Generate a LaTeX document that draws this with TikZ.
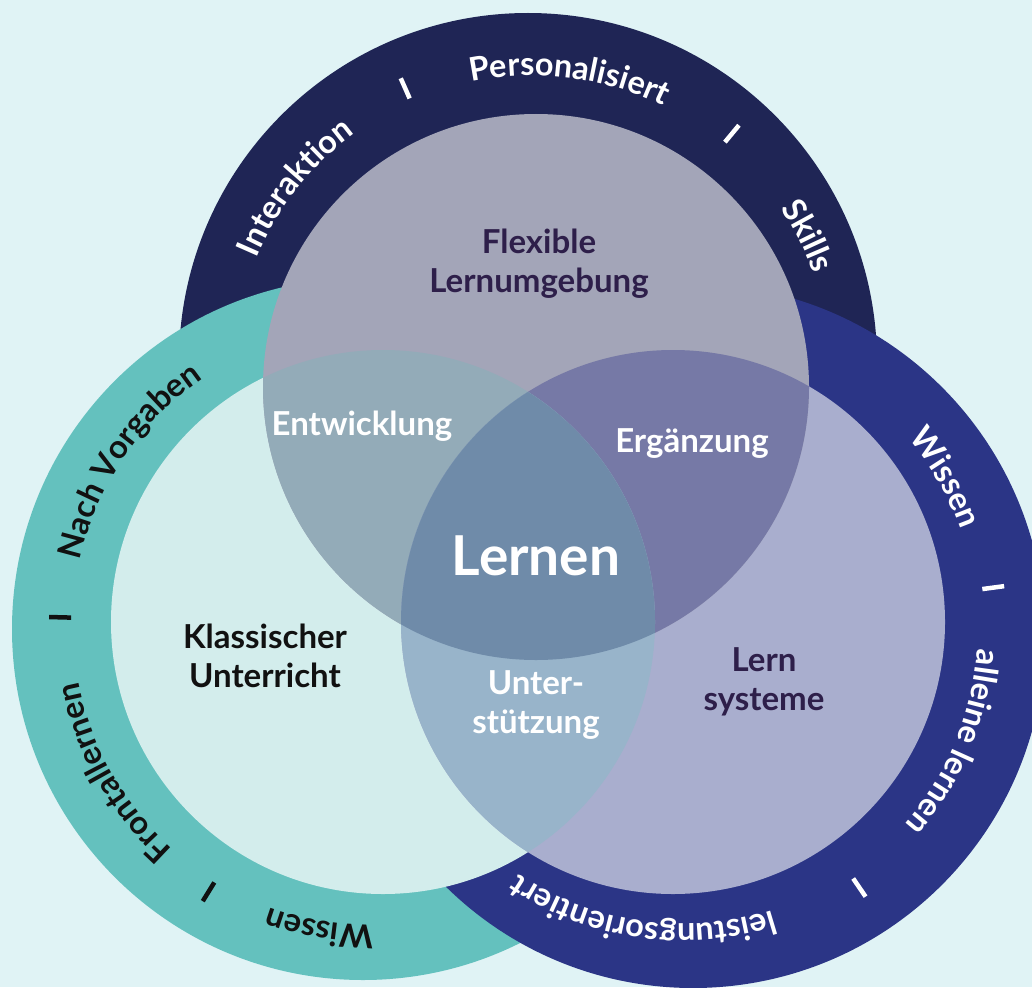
\documentclass[tikz,border=0pt]{standalone}
\usepackage{fontspec}
\setmainfont{Lato}
\usepackage{xcolor}
\usetikzlibrary{decorations.text}

\definecolor{bgcol}{HTML}{E0F3F5}
\definecolor{topring}{HTML}{1F2555}
\definecolor{tealring}{HTML}{64C1BE}
\definecolor{bluering}{HTML}{2B3586}
\definecolor{topin}{HTML}{A3A5B8}
\definecolor{leftin}{HTML}{D3EDEC}
\definecolor{rightin}{HTML}{A9AECE}
\definecolor{topleft}{HTML}{93ABB8}
\definecolor{topright}{HTML}{7679A6}
\definecolor{leftright}{HTML}{98B4CA}
\definecolor{allthree}{HTML}{6F8BA9}
\definecolor{darktext}{HTML}{2E1F4A}
\definecolor{blacktext}{HTML}{111111}

\newcommand{\ringfont}{\fontsize{32.5}{32.5}\selectfont\bfseries}
% one word on a ring, running clockwise round the centre
\newcommand{\ringword}[5]{%
  \path[decorate,decoration={text along path,text align=center,text color=#4,
      text={|\ringfont|#5}}]
    (#1) ++(#2+50:#3) arc[start angle=#2+50,end angle=#2-50,radius=#3];}
% short radial bar between two words
\newcommand{\ringsep}[3]{%
  \draw[#3,line width=4.5pt] (#1) ++(#2:302) -- ++(#2:22);}

\tikzset{
  lbl/.style={font=\fontsize{33}{39}\selectfont\bfseries,align=center,inner sep=0pt,anchor=base},
}

\begin{document}
\begin{tikzpicture}[x=1pt,y=1pt]
  \clip (0,0) rectangle (1032,-987);
  \fill[bgcol] (0,0) rectangle (1032,-987);

  % outer rings
  \fill[topring] (528,-362) circle[radius=349];
  \fill[tealring] (363,-629) circle[radius=351];
  \fill[bluering] (693,-636) circle[radius=352];

  % inner circles
  \fill[leftin] (383,-622) circle[radius=272];
  \fill[rightin] (673,-622) circle[radius=272];
  \fill[topin] (536,-387) circle[radius=273];
  \begin{scope}
    \clip (536,-387) circle[radius=273];
    \fill[topleft] (383,-622) circle[radius=272];
    \fill[topright] (673,-622) circle[radius=272];
  \end{scope}
  \begin{scope}
    \clip (383,-622) circle[radius=272];
    \fill[leftright] (673,-622) circle[radius=272];
    \clip (536,-387) circle[radius=273];
    \fill[allthree] (673,-622) circle[radius=272];
  \end{scope}

  % labels (base = last line)
  \node[lbl,text=darktext] (flex) at (539,-292) {Flexible\\Lernumgebung};
  \node[lbl,text=white] (entw) at (362,-435) {Entwicklung};
  \node[lbl,text=white] (erg) at (692,-452) {Ergänzung};
  \node[lbl,text=white,font=\fontsize{55}{55}\selectfont\bfseries] (lernen) at (536,-575) {Lernen};
  \node[lbl,text=blacktext] (klass) at (265,-687) {Klassischer\\Unterricht};
  \node[lbl,text=white] (unter) at (536,-733) {Unter-\\stützung};
  \node[lbl,text=darktext] (lernsys) at (764,-710) {Lern\\systeme};

  % ring texts
  \coordinate (tc) at (532,-374.5);
  \coordinate (lc) at (373,-625.5);
  \coordinate (rc) at (683,-629);

  \ringword{tc}{141.7}{299}{white}{Interaktion}
  \ringword{tc}{82.8}{299}{white}{Personalisiert}
  \ringword{tc}{26.7}{299}{white}{Skills}
  \ringsep{tc}{113.9}{white}
  \ringsep{tc}{50.3}{white}

  \ringword{lc}{146}{300}{blacktext}{Nach Vorgaben}
  \ringword{lc}{209.5}{300}{blacktext}{Frontallernen}
  \ringword{lc}{260}{300}{blacktext}{Wissen}
  \ringsep{lc}{178.5}{blacktext}
  \ringsep{lc}{238.3}{blacktext}

  \ringword{rc}{30}{295}{white}{Wissen}
  \ringword{rc}{-22.6}{295}{white}{alleine lernen}
  \ringword{rc}{-98.1}{295}{white}{leistungsorientiert}
  \ringsep{rc}{7.6}{white}
  \ringsep{rc}{-55.7}{white}
\end{tikzpicture}
\end{document}
